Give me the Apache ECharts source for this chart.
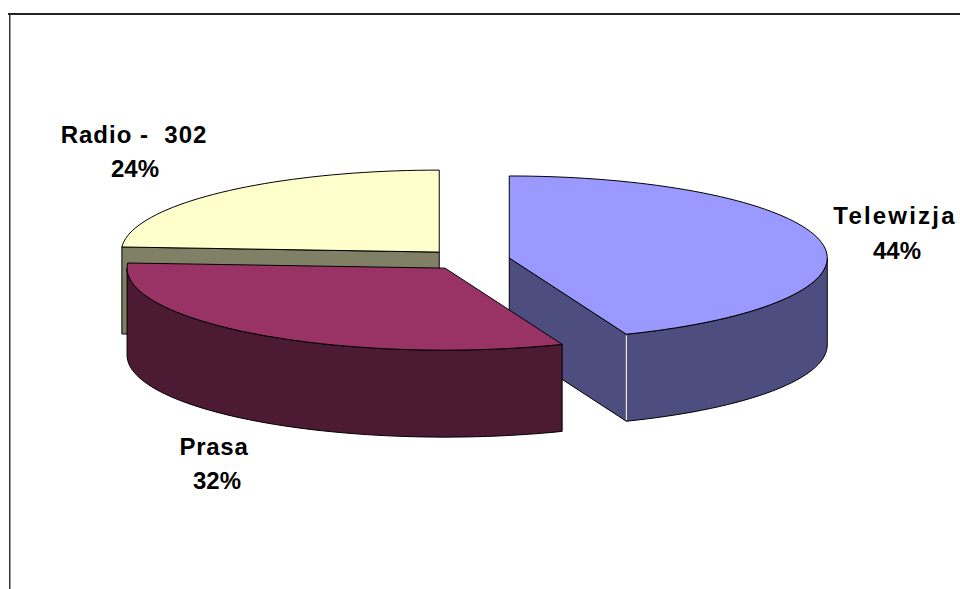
<!DOCTYPE html>
<html>
<head>
<meta charset="utf-8">
<style>
html, body { margin: 0; padding: 0; background: #fff; }
#charts { width: 960px; height: 589px; }
</style>
<script src="https://cdn.jsdelivr.net/npm/echarts@6/dist/echarts.min.js"></script>
</head>
<body>
<div id="charts"></div>
<script>
// dane
var categories = ['Telewizja', 'Prasa', 'Radio'];
var shares = [44, 32, 24];
var labelNames = ['Telewizja', 'Prasa', 'Radio -  302'];
var topColors = ['#9999ff', '#993366', '#ffffcc'];
var sideColors = ['#4d4d80', '#4d1a33', '#808066'];

// uklad: srodek kola, polosie, grubosc, wysuniecie
var cx = 468, cy = 260, rx = 318, ry = 82, depth = 87;
var explode = [42, 39, 42];
var labelPos = [[895, 215], [214, 446], [134, 134]];
var percentPos = [[897, 250], [217, 480], [135, 168]];
var labelSpacing = [2.2, 0.7, 1];
var total = shares.reduce(function (a, b) { return a + b; }, 0);

function rad(deg) { return deg * Math.PI / 180; }

function renderItem(params, api) {
    var idx = api.value(0);
    var start = 0;
    for (var i = 0; i < idx; i++) start += shares[i] / total * 360;
    var end = start + api.value(1) / total * 360;
    var mid = (start + end) / 2;
    var ox = cx + explode[idx] * Math.sin(rad(mid));
    var oy = cy - explode[idx] * ry / rx * Math.cos(rad(mid));
    // co blizej widza, rysowane pozniej
    var base = Math.round(oy) * 10;

    function pt(a, dy) {
        return [ox + rx * Math.sin(rad(a)), oy - ry * Math.cos(rad(a)) + (dy || 0)];
    }
    function arc(a, b, dy) {
        var pts = [], n = Math.max(2, Math.ceil(Math.abs(b - a) / 2));
        for (var k = 0; k <= n; k++) pts.push(pt(a + (b - a) * k / n, dy));
        return pts;
    }
    function poly(points, fill, z) {
        return {
            type: 'polygon',
            z2: base + z,
            shape: {points: points},
            style: {fill: fill, stroke: '#000', lineWidth: 1, lineJoin: 'round'}
        };
    }

    var children = [];
    // sciany przekroju, tylko zwrocone do widza
    if (Math.cos(rad(start - 90)) < -1e-6) {
        children.push(poly([[ox, oy], pt(start), pt(start, depth), [ox, oy + depth]], sideColors[idx], 1));
    }
    if (Math.cos(rad(end + 90)) < -1e-6) {
        children.push(poly([[ox, oy], pt(end), pt(end, depth), [ox, oy + depth]], sideColors[idx], 1));
    }
    // sciana zewnetrzna
    var from = Math.max(start, 90), to = Math.min(end, 270);
    if (to > from) {
        children.push(poly(arc(from, to, 0).concat(arc(to, from, depth)), sideColors[idx], 2));
    }
    if (idx === 0) {
        var a = pt(end), b = pt(end, depth);
        children.push({
            type: 'line',
            z2: base + 3,
            shape: {x1: a[0], y1: a[1] + 1, x2: b[0], y2: b[1] - 1},
            style: {stroke: '#fff', lineWidth: 1.2}
        });
    }
    // gora
    children.push(poly([[ox, oy]].concat(arc(start, end, 0)), topColors[idx], 4));

    // etykiety
    var font = {fontFamily: '"Liberation Sans", Arial, sans-serif', fontWeight: 'bold', fontSize: 24, fill: '#000', align: 'center', verticalAlign: 'middle'};
    children.push({
        type: 'text',
        z2: 100000,
        style: Object.assign({text: labelNames[idx], x: labelPos[idx][0], y: labelPos[idx][1]}, font)
    });
    children.push({
        type: 'text',
        z2: 100000,
        style: Object.assign({text: shares[idx] + '%', x: percentPos[idx][0], y: percentPos[idx][1]}, font)
    });
    return {type: 'group', children: children};
}

var chart = echarts.init(document.getElementById('charts'), null, {renderer: 'svg'});
chart.setOption({
    animation: false,
    backgroundColor: '#fff',
    graphic: [
        {type: 'line', shape: {x1: 8, y1: 14, x2: 960, y2: 14}, style: {stroke: '#222', lineWidth: 2}},
        {type: 'line', shape: {x1: 9.75, y1: 14, x2: 9.75, y2: 589}, style: {stroke: '#333', lineWidth: 1.5}}
    ],
    series: [{
        type: 'custom',
        coordinateSystem: 'none',
        silent: true,
        renderItem: renderItem,
        data: categories.map(function (c, i) { return {name: c, value: [i, shares[i]]}; })
    }]
});

// rozstrzelone litery w nazwach, jak w oryginale
var texts = chart.getDom().querySelectorAll('text');
for (var t = 0; t < texts.length; t++) {
    var n = labelNames.indexOf(texts[t].textContent);
    if (n >= 0) {
        texts[t].style.letterSpacing = labelSpacing[n] + 'px';
        texts[t].style.whiteSpace = 'pre';
    }
}
</script>
</body>
</html>
